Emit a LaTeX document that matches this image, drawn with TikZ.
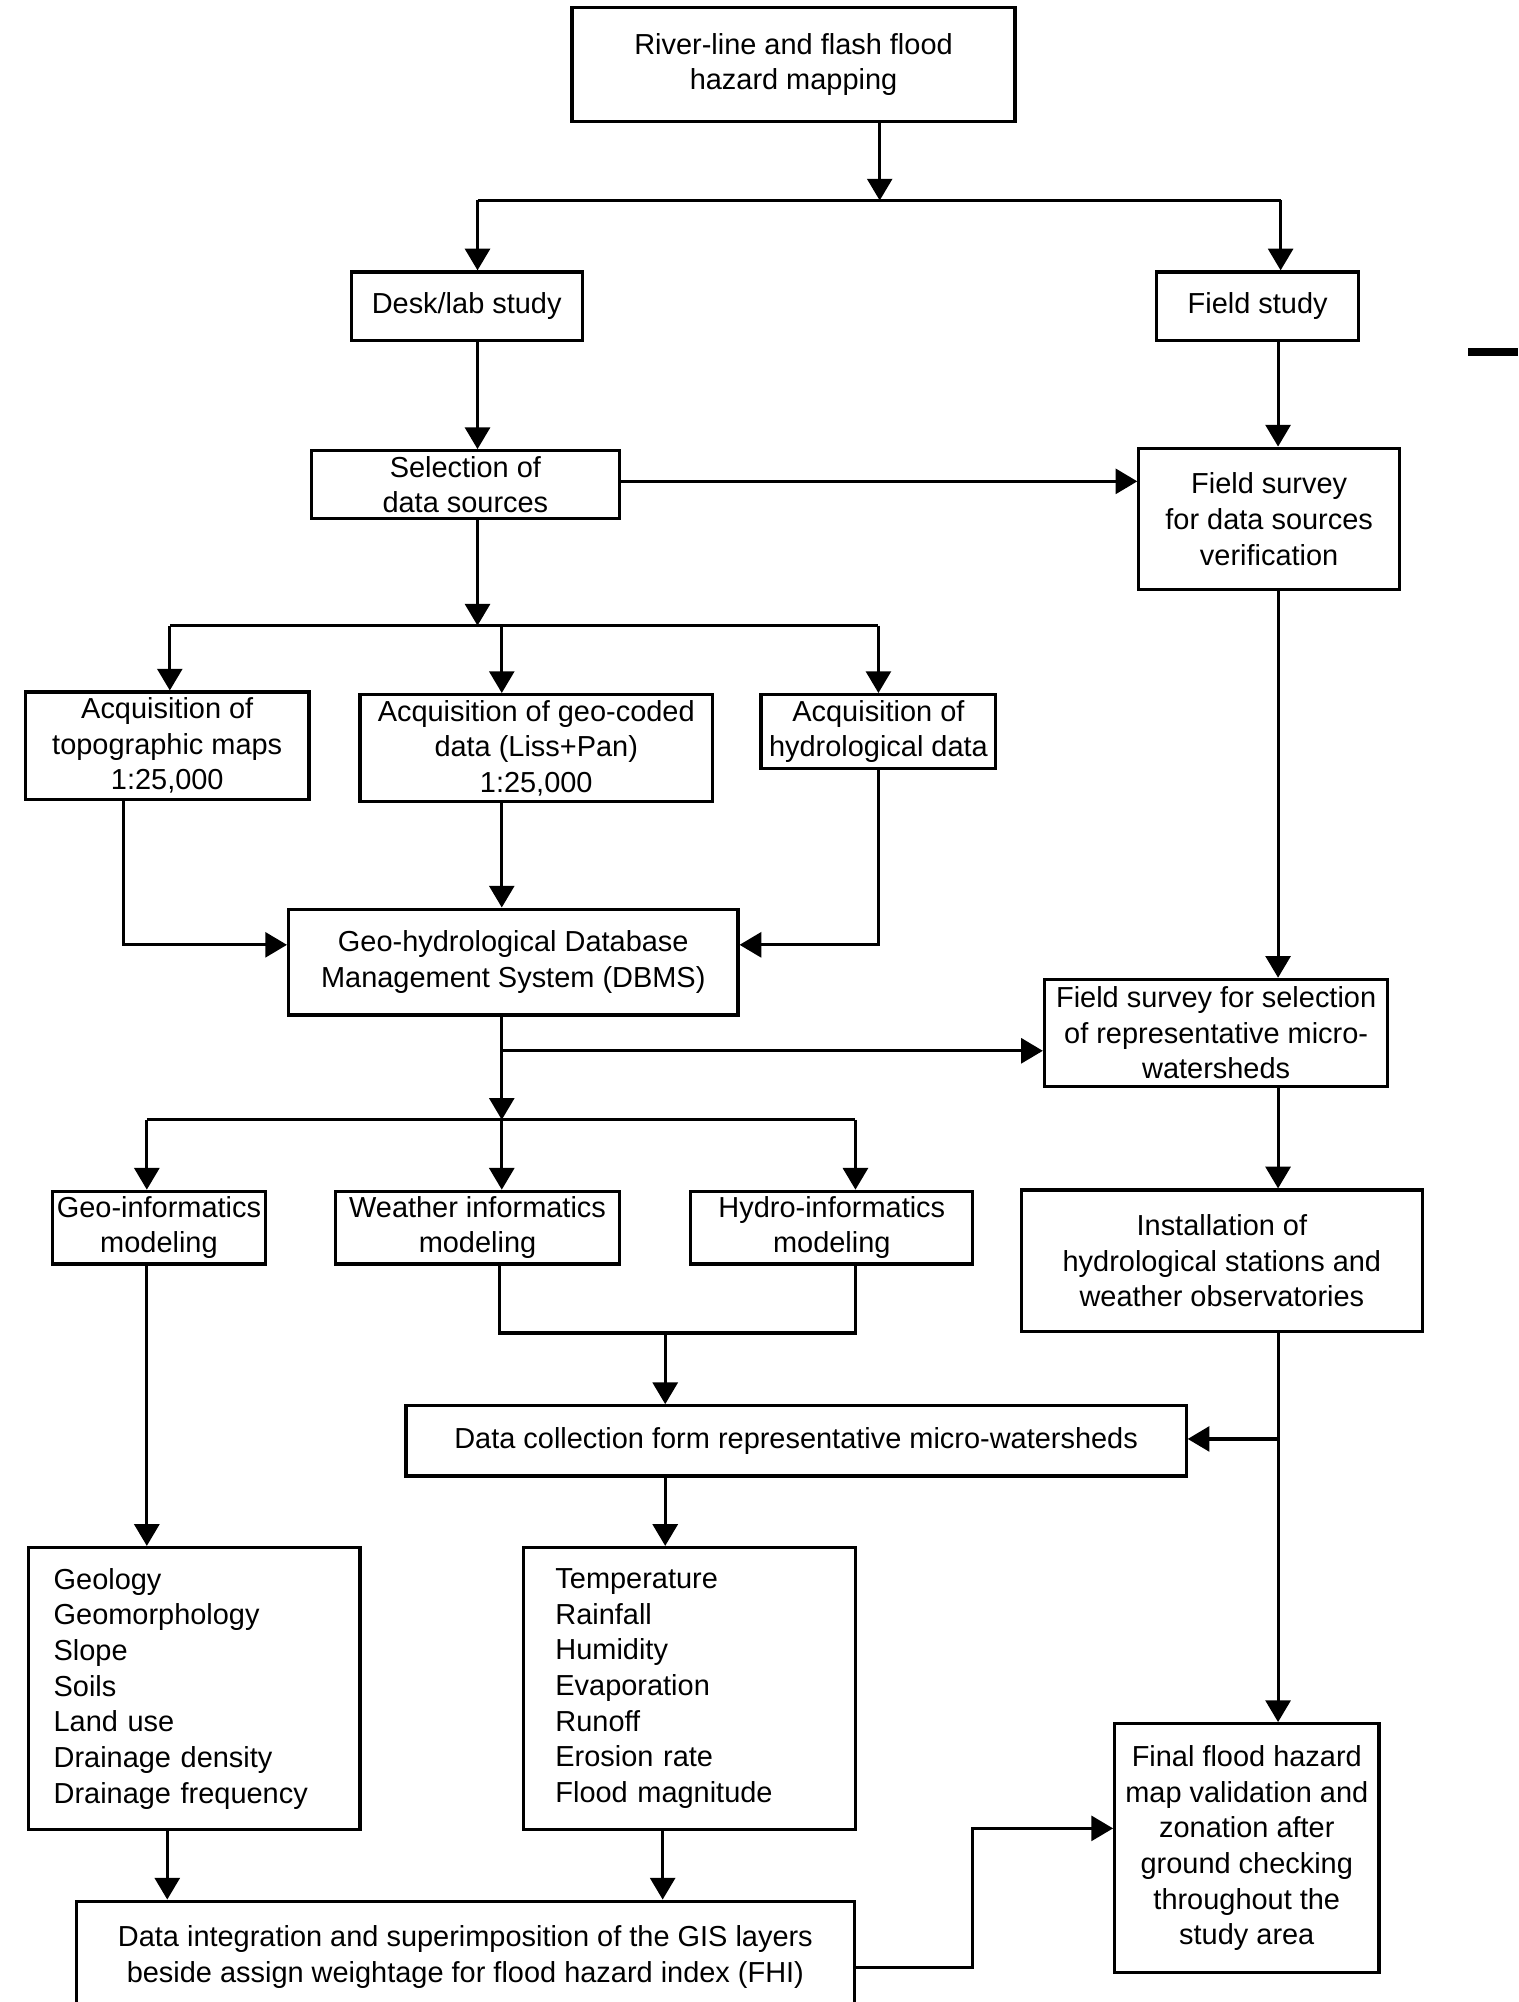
\documentclass[tikz,border=0pt]{standalone}
\usepackage{fontspec}
\setmainfont{Liberation Sans}
\usetikzlibrary{arrows.meta}
\tikzset{
  box/.style={draw, line width=1.4pt, inner sep=0pt, align=center, font=\fontsize{12.9}{15.9}\selectfont},
  arr/.style={-{Triangle[length=0.34cm,width=0.39cm]}},
}
\newcommand\bx[7][]{%
  \pgfmathsetmacro\bw{(#5-#3)*0.02}%
  \pgfmathsetmacro\bh{(#6-#4)*0.02}%
  \node[box,minimum width=\bw cm,minimum height=\bh cm,#1] (#2) at ({(#3+#5)/2},{(#4+#6)/2}) {#7};}
\begin{document}
\begin{tikzpicture}[x=0.02cm,y=-0.02cm,line width=1.4pt]
\useasboundingbox (0,0) rectangle (1189,1568);
\clip (0,0) rectangle (1189,1568);
\bx{A}{448}{6}{795}{95}{River-line and flash flood\\hazard mapping}
\bx{desk}{275}{213}{456}{267}{Desk/lab study}
\bx{field}{906}{213}{1064}{267}{Field study}
\bx{sel}{244}{353}{485}{406}{Selection of\\data sources}
\bx{fs1}{892}{351}{1096}{462}{Field survey\\for data sources\\verification}
\bx{topo}{20}{542}{242}{626}{Acquisition of\\topographic maps\\1:25,000}
\bx{geo}{282}{544}{558}{628}{Acquisition of geo-coded\\data (Liss+Pan)\\1:25,000}
\bx{hyd}{596}{544}{780}{602}{Acquisition of\\hydrological data}
\bx{dbms}{226}{712}{578}{795}{Geo-hydrological Database\\Management System (DBMS)}
\bx{fs2}{818}{767}{1087}{851}{Field survey for selection\\of representative micro-\\watersheds}
\bx{gim}{41}{933}{208}{990}{Geo-informatics\\modeling}
\bx{wim}{263}{933}{485}{990}{Weather informatics\\modeling}
\bx{him}{541}{933}{762}{990}{Hydro-informatics\\modeling}
\bx{inst}{800}{932}{1114}{1043}{Installation of\\hydrological stations and\\weather observatories}
\bx{dc}{318}{1101}{929}{1156}{Data collection form representative micro-watersheds}
\bx[text width=4.4cm,align=left]{l1}{22}{1212}{282}{1433}{Geology\\Geomorphology\\Slope\\Soils\\Land use\\Drainage density\\Drainage frequency}
\bx[text width=4.2cm,align=left]{l2}{410}{1212}{670}{1433}{Temperature\\Rainfall\\Humidity\\Evaporation\\Runoff\\Erosion rate\\Flood magnitude}
\bx{integ}{60}{1489}{669}{1576}{Data integration and superimposition of the GIS layers\\beside assign weightage for flood hazard index (FHI)}
\bx{final}{873}{1350}{1080}{1545}{Final flood hazard\\map validation and\\zonation after\\ground checking\\throughout the\\study area}
% connectors
\coordinate (j1) at (689,157);
\coordinate (j1l) at (374,157);
\coordinate (j1r) at (1003,157);
\draw[arr] (A.south -| j1) -- (j1);
\draw (j1l) -- (j1r);
\draw[arr] (j1l) -- (j1l |- desk.north);
\draw[arr] (j1r) -- (j1r |- field.north);
\draw[arr] (desk.south -| j1l) -- (sel.north -| j1l);
\coordinate (s1) at (0,377);
\draw[arr] (sel.east |- s1) -- (s1 -| fs1.west);
\coordinate (xr) at (1001,0);
\draw[arr] (field.south -| xr) -- (fs1.north -| xr);
\coordinate (j2) at (374,490);
\draw[arr] (sel.south -| j2) -- (j2);
\coordinate (j2l) at (133,490);
\coordinate (j2m) at (393,490);
\coordinate (j2r) at (688,490);
\draw (j2l) -- (j2r);
\draw[arr] (j2l) -- (j2l |- topo.north);
\draw[arr] (j2m) -- (j2m |- geo.north);
\draw[arr] (j2r) -- (j2r |- hyd.north);
\coordinate (k1) at (97,740);
\draw[arr] (topo.south -| k1) -- (k1) -- (k1 -| dbms.west);
\coordinate (k2) at (688,740);
\draw[arr] (hyd.south -| k2) -- (k2) -- (k2 -| dbms.east);
\draw[arr] (geo.south -| j2m) -- (dbms.north -| j2m);
\draw[arr] (fs1.south -| xr) -- (fs2.north -| xr);
\coordinate (j3) at (393,877);
\coordinate (j4) at (393,823);
\draw[arr] (dbms.south -| j3) -- (j3);
\draw[arr] (j4) -- (j4 -| fs2.west);
\coordinate (j3l) at (115,877);
\coordinate (j3r) at (670,877);
\draw (j3l) -- (j3r);
\draw[arr] (j3l) -- (j3l |- gim.north);
\draw[arr] (j3) -- (j3 |- wim.north);
\draw[arr] (j3r) -- (j3r |- him.north);
\draw[arr] (fs2.south -| xr) -- (inst.north -| xr);
\coordinate (m1) at (391,1044);
\coordinate (m2) at (670,1044);
\coordinate (m) at (521,1044);
\draw (wim.south -| m1) -- (m1) -- (m2) -- (him.south -| m2);
\draw[arr] (m) -- (m |- dc.north);
\coordinate (n) at (1001,1127);
\draw[arr] (inst.south -| xr) -- (final.north -| xr);
\draw[arr] (n) -- (n -| dc.east);
\draw[arr] (gim.south -| j3l) -- (l1.north -| j3l);
\draw[arr] (dc.south -| m) -- (l2.north -| m);
\coordinate (p1) at (131,0);
\coordinate (p2) at (519,0);
\draw[arr] (l1.south -| p1) -- (integ.north -| p1);
\draw[arr] (l2.south -| p2) -- (integ.north -| p2);
\coordinate (r) at (762,1541);
\coordinate (q) at (762,1432);
\draw[arr] (integ.east |- r) -- (r) -- (q) -- (q -| final.west);
\fill (1150,272.5) rectangle (1189,279);
\end{tikzpicture}
\end{document}
